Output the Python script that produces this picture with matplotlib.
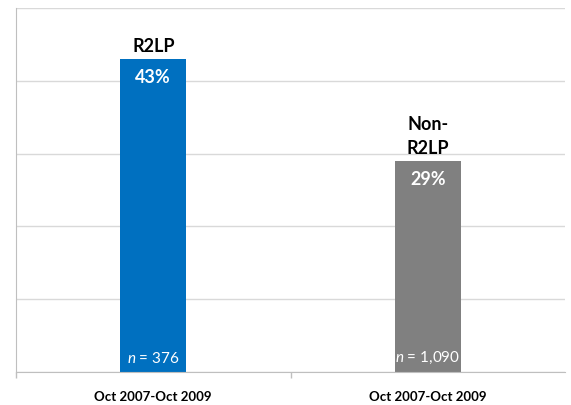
import matplotlib
matplotlib.use("Agg")
from matplotlib import pyplot as plt

# Chart data
periods = ["Oct 2007-Oct 2009", "Oct 2007-Oct 2009"]
groups = ["R2LP", "Non-\nR2LP"]
percents = [43, 29]
sample_sizes = ["376", "1,090"]
bar_colors = ["#0070C0", "#808080"]

plt.rcParams['font.family'] = ['Lato', 'DejaVu Sans']
plt.rcParams['mathtext.fontset'] = 'custom'
plt.rcParams['mathtext.it'] = 'Lato:italic'
plt.rcParams['mathtext.rm'] = 'Lato'

fig = plt.figure(figsize=(5.71, 4.05), dpi=100)
ax = fig.add_axes([16 / 571, 33 / 405, 549 / 571, 364 / 405])

x = list(range(len(percents)))
bars = ax.bar(x, percents, width=0.24, color=bar_colors, zorder=2)

ax.set_xlim(-0.5, 1.5)
ax.set_ylim(0, 50)

# Horizontal gridlines, no y tick labels
ax.set_yticks(range(0, 51, 10))
ax.yaxis.grid(True, color="#d9d9d9", linewidth=1)
ax.tick_params(axis="y", length=0, labelleft=False)

# Category ticks sit between the groups (no tick at the far right)
ax.set_xticks([-0.5, 0.5])
ax.set_xticklabels([])
ax.set_xticks(x, minor=True)
ax.set_xticklabels(periods, minor=True, fontsize=9.5, fontweight="bold")
ax.tick_params(axis="x", which="major", length=4, color="#bfbfbf", width=1)
ax.tick_params(axis="x", which="minor", length=0, pad=14)

for side in ["top", "right"]:
    ax.spines[side].set_visible(False)
ax.spines["left"].set_color("#bfbfbf")
ax.spines["bottom"].set_color("#bfbfbf")

for rect, grp, pct, n in zip(bars, groups, percents, sample_sizes):
    cx = rect.get_x() + rect.get_width() / 2
    top = rect.get_height()
    ax.annotate(grp, (cx, top), xytext=(0, 3), textcoords="offset points",
                ha="center", va="bottom", fontsize=13, fontweight="bold",
                color="black", linespacing=1.45)
    ax.annotate(f"{pct}%", (cx, top), xytext=(0, -7), textcoords="offset points",
                ha="center", va="top", fontsize=13, fontweight="bold", color="white")
    ax.annotate(f"$n$ = {n}", (cx, 0), xytext=(0, 4), textcoords="offset points",
                ha="center", va="bottom", fontsize=11, color="white")

fig.savefig("out.png", dpi=100)
